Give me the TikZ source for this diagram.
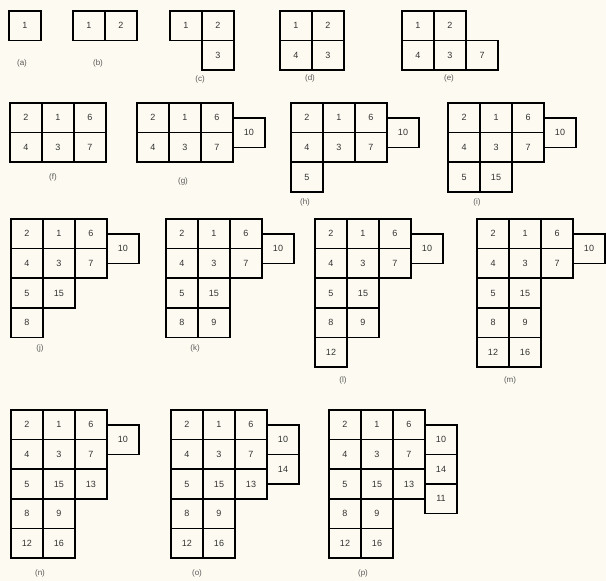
\documentclass[tikz,border=0pt]{standalone}
\usepackage{fontspec}
\setmainfont{Liberation Sans}
\usetikzlibrary{positioning}
\definecolor{fond}{RGB}{253,251,241}
\definecolor{chiffre}{RGB}{50,50,50}
\definecolor{lettre}{RGB}{85,85,85}

\begin{document}
\begin{tikzpicture}[x=1pt,y=-1pt]
        \tikzstyle{cellule} = [rectangle, minimum width=32pt, minimum height=29.6pt, inner sep=0pt, outer sep=0pt, draw=black, line width=1.5pt, text=chiffre, font=\fontsize{9}{10}\selectfont]
        \tikzstyle{etiquette} = [inner sep=0pt, text=lettre, font=\fontsize{8}{9}\selectfont]
        \fill[fond] (0,0) rectangle (606,581);
        \useasboundingbox (0,0) rectangle (606,581);

        % (a)
        \node (a_1) [cellule] at (25,25.8) {1};
        \node (lab_a) [etiquette] at (22,63) {(a)};

        % (b)
        \node (b_1) [cellule] at (89,25.8) {1};
        \node (b_2) [cellule, right=0pt of b_1] {2};
        \node (lab_b) [etiquette] at (98,63) {(b)};

        % (c)
        \node (c_1) [cellule] at (186,25.8) {1};
        \node (c_2) [cellule, right=0pt of c_1] {2};
        \node (c_3) [cellule, below=0pt of c_2] {3};
        \node (lab_c) [etiquette] at (200,79) {(c)};

        % (d)
        \node (d_1) [cellule] at (296,25.8) {1};
        \node (d_2) [cellule, right=0pt of d_1] {2};
        \node (d_4) [cellule, below=0pt of d_1] {4};
        \node (d_3) [cellule, right=0pt of d_4] {3};
        \node (lab_d) [etiquette] at (310,78) {(d)};

        % (e)
        \node (e_1) [cellule] at (418,25.8) {1};
        \node (e_2) [cellule, right=0pt of e_1] {2};
        \node (e_4) [cellule, below=0pt of e_1] {4};
        \node (e_3) [cellule, right=0pt of e_4] {3};
        \node (e_7) [cellule, right=0pt of e_3] {7};
        \node (lab_e) [etiquette] at (449,78) {(e)};

        % (f)
        \node (f_2) [cellule] at (26,117.8) {2};
        \node (f_1) [cellule, right=0pt of f_2] {1};
        \node (f_6) [cellule, right=0pt of f_1] {6};
        \node (f_4) [cellule, below=0pt of f_2] {4};
        \node (f_3) [cellule, right=0pt of f_4] {3};
        \node (f_7) [cellule, right=0pt of f_3] {7};
        \node (lab_f) [etiquette] at (53,177) {(f)};

        % (g)
        \node (g_2) [cellule] at (153,117.8) {2};
        \node (g_1) [cellule, right=0pt of g_2] {1};
        \node (g_6) [cellule, right=0pt of g_1] {6};
        \node (g_4) [cellule, below=0pt of g_2] {4};
        \node (g_3) [cellule, right=0pt of g_4] {3};
        \node (g_7) [cellule, right=0pt of g_3] {7};
        \node (g_10) [cellule, right=0pt of g_6.south east] {10};
        \node (lab_g) [etiquette] at (183,181) {(g)};

        % (h)
        \node (h_2) [cellule] at (307,117.8) {2};
        \node (h_1) [cellule, right=0pt of h_2] {1};
        \node (h_6) [cellule, right=0pt of h_1] {6};
        \node (h_4) [cellule, below=0pt of h_2] {4};
        \node (h_3) [cellule, right=0pt of h_4] {3};
        \node (h_7) [cellule, right=0pt of h_3] {7};
        \node (h_5) [cellule, below=0pt of h_4] {5};
        \node (h_10) [cellule, right=0pt of h_6.south east] {10};
        \node (lab_h) [etiquette] at (305,202) {(h)};

        % (i)
        \node (i_2) [cellule] at (464,117.8) {2};
        \node (i_1) [cellule, right=0pt of i_2] {1};
        \node (i_6) [cellule, right=0pt of i_1] {6};
        \node (i_4) [cellule, below=0pt of i_2] {4};
        \node (i_3) [cellule, right=0pt of i_4] {3};
        \node (i_7) [cellule, right=0pt of i_3] {7};
        \node (i_5) [cellule, below=0pt of i_4] {5};
        \node (i_15) [cellule, right=0pt of i_5] {15};
        \node (i_10) [cellule, right=0pt of i_6.south east] {10};
        \node (lab_i) [etiquette] at (477,202) {(i)};

        % (j)
        \node (j_2) [cellule] at (27,233.8) {2};
        \node (j_1) [cellule, right=0pt of j_2] {1};
        \node (j_6) [cellule, right=0pt of j_1] {6};
        \node (j_4) [cellule, below=0pt of j_2] {4};
        \node (j_3) [cellule, right=0pt of j_4] {3};
        \node (j_7) [cellule, right=0pt of j_3] {7};
        \node (j_5) [cellule, below=0pt of j_4] {5};
        \node (j_15) [cellule, right=0pt of j_5] {15};
        \node (j_8) [cellule, below=0pt of j_5] {8};
        \node (j_10) [cellule, right=0pt of j_6.south east] {10};
        \node (lab_j) [etiquette] at (40,348) {(j)};

        % (k)
        \node (k_2) [cellule] at (182,233.8) {2};
        \node (k_1) [cellule, right=0pt of k_2] {1};
        \node (k_6) [cellule, right=0pt of k_1] {6};
        \node (k_4) [cellule, below=0pt of k_2] {4};
        \node (k_3) [cellule, right=0pt of k_4] {3};
        \node (k_7) [cellule, right=0pt of k_3] {7};
        \node (k_5) [cellule, below=0pt of k_4] {5};
        \node (k_15) [cellule, right=0pt of k_5] {15};
        \node (k_8) [cellule, below=0pt of k_5] {8};
        \node (k_9) [cellule, right=0pt of k_8] {9};
        \node (k_10) [cellule, right=0pt of k_6.south east] {10};
        \node (lab_k) [etiquette] at (195,348) {(k)};

        % (l)
        \node (l_2) [cellule] at (331,233.8) {2};
        \node (l_1) [cellule, right=0pt of l_2] {1};
        \node (l_6) [cellule, right=0pt of l_1] {6};
        \node (l_4) [cellule, below=0pt of l_2] {4};
        \node (l_3) [cellule, right=0pt of l_4] {3};
        \node (l_7) [cellule, right=0pt of l_3] {7};
        \node (l_5) [cellule, below=0pt of l_4] {5};
        \node (l_15) [cellule, right=0pt of l_5] {15};
        \node (l_8) [cellule, below=0pt of l_5] {8};
        \node (l_9) [cellule, right=0pt of l_8] {9};
        \node (l_12) [cellule, below=0pt of l_8] {12};
        \node (l_10) [cellule, right=0pt of l_6.south east] {10};
        \node (lab_l) [etiquette] at (343,380) {(l)};

        % (m)
        \node (m_2) [cellule] at (493,233.8) {2};
        \node (m_1) [cellule, right=0pt of m_2] {1};
        \node (m_6) [cellule, right=0pt of m_1] {6};
        \node (m_4) [cellule, below=0pt of m_2] {4};
        \node (m_3) [cellule, right=0pt of m_4] {3};
        \node (m_7) [cellule, right=0pt of m_3] {7};
        \node (m_5) [cellule, below=0pt of m_4] {5};
        \node (m_15) [cellule, right=0pt of m_5] {15};
        \node (m_8) [cellule, below=0pt of m_5] {8};
        \node (m_9) [cellule, right=0pt of m_8] {9};
        \node (m_12) [cellule, below=0pt of m_8] {12};
        \node (m_16) [cellule, right=0pt of m_12] {16};
        \node (m_10) [cellule, right=0pt of m_6.south east] {10};
        \node (lab_m) [etiquette] at (510,380) {(m)};

        % (n)
        \node (n_2) [cellule] at (27,424.8) {2};
        \node (n_1) [cellule, right=0pt of n_2] {1};
        \node (n_6) [cellule, right=0pt of n_1] {6};
        \node (n_4) [cellule, below=0pt of n_2] {4};
        \node (n_3) [cellule, right=0pt of n_4] {3};
        \node (n_7) [cellule, right=0pt of n_3] {7};
        \node (n_5) [cellule, below=0pt of n_4] {5};
        \node (n_15) [cellule, right=0pt of n_5] {15};
        \node (n_13) [cellule, right=0pt of n_15] {13};
        \node (n_8) [cellule, below=0pt of n_5] {8};
        \node (n_9) [cellule, right=0pt of n_8] {9};
        \node (n_12) [cellule, below=0pt of n_8] {12};
        \node (n_16) [cellule, right=0pt of n_12] {16};
        \node (n_10) [cellule, right=0pt of n_6.south east] {10};
        \node (lab_n) [etiquette] at (40,573) {(n)};

        % (o)
        \node (o_2) [cellule] at (187,424.8) {2};
        \node (o_1) [cellule, right=0pt of o_2] {1};
        \node (o_6) [cellule, right=0pt of o_1] {6};
        \node (o_4) [cellule, below=0pt of o_2] {4};
        \node (o_3) [cellule, right=0pt of o_4] {3};
        \node (o_7) [cellule, right=0pt of o_3] {7};
        \node (o_5) [cellule, below=0pt of o_4] {5};
        \node (o_15) [cellule, right=0pt of o_5] {15};
        \node (o_13) [cellule, right=0pt of o_15] {13};
        \node (o_8) [cellule, below=0pt of o_5] {8};
        \node (o_9) [cellule, right=0pt of o_8] {9};
        \node (o_12) [cellule, below=0pt of o_8] {12};
        \node (o_16) [cellule, right=0pt of o_12] {16};
        \node (o_10) [cellule, right=0pt of o_6.south east] {10};
        \node (o_14) [cellule, below=0pt of o_10] {14};
        \node (lab_o) [etiquette] at (197,573) {(o)};

        % (p)
        \node (p_2) [cellule] at (345,424.8) {2};
        \node (p_1) [cellule, right=0pt of p_2] {1};
        \node (p_6) [cellule, right=0pt of p_1] {6};
        \node (p_4) [cellule, below=0pt of p_2] {4};
        \node (p_3) [cellule, right=0pt of p_4] {3};
        \node (p_7) [cellule, right=0pt of p_3] {7};
        \node (p_5) [cellule, below=0pt of p_4] {5};
        \node (p_15) [cellule, right=0pt of p_5] {15};
        \node (p_13) [cellule, right=0pt of p_15] {13};
        \node (p_8) [cellule, below=0pt of p_5] {8};
        \node (p_9) [cellule, right=0pt of p_8] {9};
        \node (p_12) [cellule, below=0pt of p_8] {12};
        \node (p_16) [cellule, right=0pt of p_12] {16};
        \node (p_10) [cellule, right=0pt of p_6.south east] {10};
        \node (p_14) [cellule, below=0pt of p_10] {14};
        \node (p_11) [cellule, below=0pt of p_14] {11};
        \node (lab_p) [etiquette] at (363,573) {(p)};
    \end{tikzpicture}
\end{document}
